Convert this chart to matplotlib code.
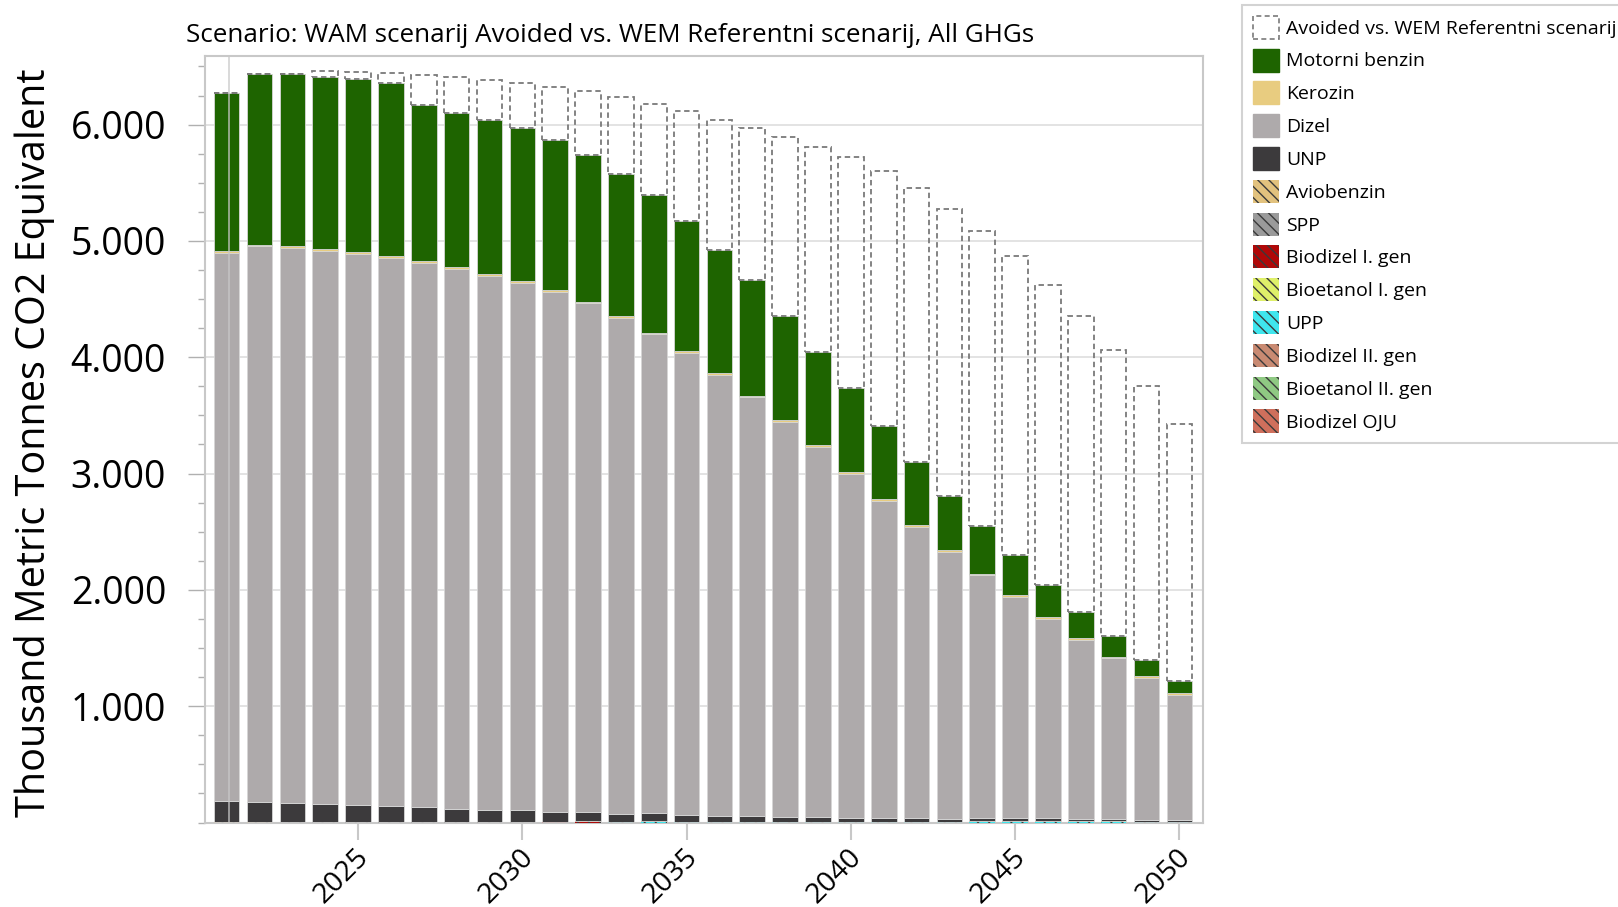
import matplotlib
matplotlib.use('Agg')
import matplotlib.pyplot as plt
import matplotlib.ticker as ticker
import matplotlib.transforms as mtransforms
from matplotlib.patches import Patch
import numpy as np

plt.rcParams['font.family'] = ['Open Sans', 'DejaVu Sans']
plt.rcParams['hatch.linewidth'] = 1.0

years = list(range(2021, 2051))

# kt CO2e, WAM scenario by fuel
motorni_benzin = [1363, 1470, 1478, 1477, 1483, 1486, 1340, 1329, 1323, 1317,
                  1294, 1260, 1223, 1179, 1120, 1054, 991, 899, 801, 725,
                  630, 546, 467, 407, 341, 277, 226, 179, 143, 103]
kerozin = [15] * 30
dizel = [4711, 4773, 4768, 4753, 4742, 4713, 4676, 4638, 4590, 4536,
         4470, 4373, 4262, 4115, 3972, 3791, 3596, 3392, 3179, 2957,
         2722, 2499, 2294, 2085, 1905, 1714, 1540, 1381, 1219, 1076]
unp = [177, 172, 163, 155, 140, 132, 126, 112, 103, 97,
       83, 77, 69, 69, 57, 52, 52, 43, 43, 34,
       34, 34, 26, 26, 22, 22, 18, 18, 15, 15]
aviobenzin = [8, 8, 0, 0, 0, 0, 0, 0, 0, 0,
              0, 5, 0, 5, 0, 0, 0, 0, 0, 0,
              0, 0, 0, 6, 6, 6, 6, 0, 0, 0]
spp = [0, 0, 8, 8, 8, 8, 8, 8, 8, 8,
       0, 0, 0, 0, 0, 0, 0, 0, 0, 0,
       0, 0, 0, 0, 0, 0, 0, 0, 0, 0]
biodizel_1 = [0] * 10 + [8, 8] + [0] * 18
bioetanol_1 = [0] * 27 + [5, 0, 0]
upp = [0] * 12 + [8] * 18
biodizel_2 = [0] * 30
bioetanol_2 = [0] * 30
biodizel_oju = [0] * 30
# WEM minus WAM
avoided = [0, 0, 0, 49, 67, 86, 261, 310, 344, 386,
           452, 547, 657, 789, 942, 1124, 1310, 1535, 1760, 1981,
           2190, 2351, 2468, 2542, 2572, 2579, 2540, 2459, 2351, 2207]

series = [
    ('Biodizel OJU', biodizel_oju, '#cf6f5c', True),
    ('Bioetanol II. gen', bioetanol_2, '#8fc983', True),
    ('Biodizel II. gen', biodizel_2, '#c98a72', True),
    ('UPP', upp, '#3fe6ee', True),
    ('Bioetanol I. gen', bioetanol_1, '#dff06a', True),
    ('Biodizel I. gen', biodizel_1, '#b00808', True),
    ('SPP', spp, '#9a9a9a', True),
    ('Aviobenzin', aviobenzin, '#e2c27e', True),
    ('UNP', unp, '#3c3a3c', False),
    ('Dizel', dizel, '#aeaaab', False),
    ('Kerozin', kerozin, '#e8cc80', False),
    ('Motorni benzin', motorni_benzin, '#1e6400', False),
]

fig = plt.figure(figsize=(16.18, 9.07), dpi=100)
ax = fig.add_axes([205 / 1618, 1 - 822.5 / 907, 998 / 1618, 766.5 / 907])

x = np.array(years)
width = 0.78
bottom = np.zeros(len(years))
for name, vals, col, hatched in series:
    vals = np.array(vals, dtype=float)
    if hatched:
        ax.bar(x, vals, width, bottom=bottom, color=col, edgecolor='#3a3a3a',
               linewidth=0, hatch='\\\\\\', zorder=3)
    else:
        ax.bar(x, vals, width, bottom=bottom, color=col, edgecolor='#d6d6d6',
               linewidth=0.6, zorder=3)
    bottom += vals

ax.bar(x, avoided, width, bottom=bottom, fill=False, edgecolor='#7a7a7a',
       linewidth=1.3, linestyle=(0, (3, 2)), zorder=3)

ax.axvline(2021.08, color='#c8c8c8', linewidth=1.2, alpha=0.8, zorder=4)

ax.set_xlim(2020.34, 2050.72)
ax.set_ylim(0, 6590)
ax.set_xticks([2025, 2030, 2035, 2040, 2045, 2050])
ax.set_xticklabels(['2025', '2030', '2035', '2040', '2045', '2050'],
                   rotation=45, ha='right', va='center', rotation_mode='anchor',
                   fontsize=20.5)
ax.tick_params(axis='x', length=12, width=1.5, color='#c8c8c8', pad=10)
shift = mtransforms.ScaledTranslation(7 / 100, 0, fig.dpi_scale_trans)
for lbl in ax.get_xticklabels():
    lbl.set_transform(lbl.get_transform() + shift)

ax.yaxis.set_major_locator(ticker.FixedLocator([1000, 2000, 3000, 4000, 5000, 6000]))
ax.yaxis.set_minor_locator(ticker.MultipleLocator(250))
ax.yaxis.set_major_formatter(ticker.FuncFormatter(lambda v, p: f'{int(v):,}'.replace(',', '.')))
ax.tick_params(axis='y', which='major', length=12, width=1, color='#b0b0b0',
               labelsize=27, pad=16)
ax.tick_params(axis='y', which='minor', length=5, width=1, color='#b0b0b0')

ax.grid(axis='y', color='#dedede', linewidth=1.2, zorder=0)
ax.set_axisbelow(True)
for s in ax.spines.values():
    s.set_color('#c8c8c8')
    s.set_linewidth(1.5)

fig.text(35 / 1618, 1 - 443 / 907, 'Thousand Metric Tonnes CO2 Equivalent',
         rotation=90, ha='center', va='center', fontsize=28.5)
fig.text(186 / 1618, 1 - 35 / 907,
         'Scenario: WAM scenarij Avoided vs. WEM Referentni scenarij, All GHGs',
         ha='left', va='center', fontsize=18.7)

handles = [Patch(facecolor='white', edgecolor='#7a7a7a', linestyle=(0, (3, 2)),
                 linewidth=1.2, label='Avoided vs. WEM Referentni scenarij')]
for name, vals, col, hatched in reversed(series):
    if hatched:
        handles.append(Patch(facecolor=col, edgecolor='#3a3a3a', linewidth=0,
                             hatch='\\\\\\', label=name))
    else:
        handles.append(Patch(facecolor=col, edgecolor=col, label=name))

leg = fig.legend(handles=handles, loc='upper left',
                 bbox_to_anchor=(1242 / 1618, 1 - 5 / 907),
                 fontsize=14, frameon=True, fancybox=False,
                 handlelength=1.35, handleheight=1.45, handletextpad=0.35,
                 labelspacing=0.5, borderpad=0.55, borderaxespad=0)
leg.get_frame().set_edgecolor('#c8c8c8')
leg.get_frame().set_linewidth(1.5)

fig.savefig('out.png', dpi=100)
